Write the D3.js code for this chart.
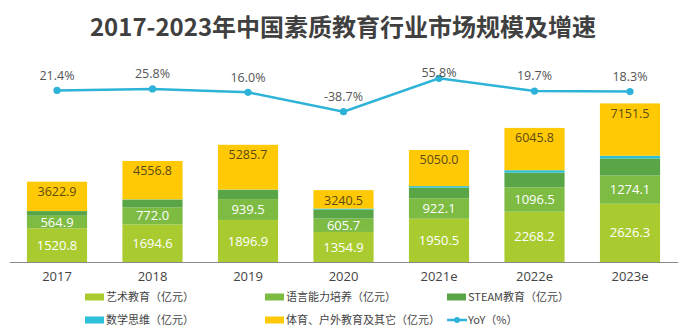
<!DOCTYPE html>
<html><head><meta charset="utf-8">
<script src="https://cdn.jsdelivr.net/npm/d3@7"></script>
<style>
html,body{margin:0;padding:0;background:#fff;}
svg{display:block;}
text{font-family:"Open Sans","Noto Sans CJK SC",sans-serif;}
</style></head>
<body><svg id="c" width="684" height="329"></svg>
<script>
const years = ["2017","2018","2019","2020","2021e","2022e","2023e"];
const art = [1520.8,1694.6,1896.9,1354.9,1950.5,2268.2,2626.3];
const language = [564.9,772.0,939.5,605.7,922.1,1096.5,1274.1];
const steam = [210,350,420,410,485,665,770];
const mathThink = [5,8,12,40,65,110,120];
const sports = [1322,1732,2017,830,1627,1906,2361];
const totals = [3622.9,4556.8,5285.7,3240.5,5050.0,6045.8,7151.5];
const yoy = [21.4,25.8,16.0,-38.7,55.8,19.7,18.3];

const seriesKeys = ["art","language","steam","math","sports"];
const seriesNames = ["艺术教育（亿元）","语言能力培养（亿元）","STEAM教育（亿元）","数学思维（亿元）","体育、户外教育及其它（亿元）"];
const colors = {art:"#a9cb2f",language:"#7dbb43",steam:"#5aa646",math:"#2cc0d9",sports:"#ffc905"};
const lineColor = "#2eb3d8";

const rows = years.map((y,i)=>({year:y,art:art[i],language:language[i],steam:steam[i],math:mathThink[i],sports:sports[i],total:totals[i],yoy:yoy[i]}));

const svg = d3.select("#c");
const x = d3.scaleBand().domain(years).range([9.25,677.75]).paddingInner(0.37).paddingOuter(0.185);
const y = d3.scaleLinear().domain([0,8000]).range([262,84.6]);
const yl = d3.scaleLinear().domain([-100,100]).range([133.3,62.7]);

// title
svg.append("text").attr("x",343).attr("y",36).attr("text-anchor","middle")
  .style("font-family","'Noto Sans CJK SC',sans-serif").style("font-weight","bold")
  .style("font-size","24px").attr("fill","#404040")
  .text("2017-2023年中国素质教育行业市场规模及增速");

const stack = d3.stack().keys(seriesKeys)(rows);
const g = svg.append("g");
stack.forEach(layer=>{
  g.selectAll(null).data(layer).enter().append("rect")
    .attr("x",d=>x(d.data.year)).attr("width",x.bandwidth())
    .attr("y",d=>y(d[1])).attr("height",d=>Math.max(0,y(d[0])-y(d[1])))
    .attr("fill",colors[layer.key]);
});

// axis
const xAxis = d3.axisBottom(x).tickSize(0).tickPadding(10);
const ax = svg.append("g").attr("transform","translate(0,262)").call(xAxis);
ax.select(".domain").attr("stroke","#8a8a8a").attr("stroke-width",1.2);
ax.selectAll("text").style("font-size","13px").attr("fill","#444");

// bar labels
const artLayer = stack[0], langLayer = stack[1];
svg.selectAll(null).data(artLayer).enter().append("text")
  .attr("x",d=>x(d.data.year)+x.bandwidth()/2).attr("y",d=>(y(d[0])+y(d[1]))/2)
  .attr("dy","0.35em").attr("text-anchor","middle").attr("fill","#fff")
  .style("font-size","13px").text(d=>d.data.art.toFixed(1));
svg.selectAll(null).data(langLayer).enter().append("text")
  .attr("x",d=>x(d.data.year)+x.bandwidth()/2).attr("y",d=>(y(d[0])+y(d[1]))/2)
  .attr("dy","0.35em").attr("text-anchor","middle").attr("fill","#fff")
  .style("font-size","13px").text(d=>d.data.language.toFixed(1));
svg.selectAll(null).data(rows).enter().append("text")
  .attr("x",d=>x(d.year)+x.bandwidth()/2).attr("y",d=>y(d.total)+10)
  .attr("dy","0.35em").attr("text-anchor","middle").attr("fill","#5b4a14")
  .style("font-size","12.5px").text(d=>d.total.toFixed(1));

// line
const cx = d=>x(d.year)+x.bandwidth()/2;
svg.append("path").datum(rows)
  .attr("d",d3.line().x(cx).y(d=>yl(d.yoy)))
  .attr("fill","none").attr("stroke",lineColor).attr("stroke-width",2.5);
svg.selectAll(null).data(rows).enter().append("circle")
  .attr("cx",cx).attr("cy",d=>yl(d.yoy)).attr("r",3.6).attr("fill",lineColor);
svg.selectAll(null).data(rows).enter().append("text")
  .attr("x",cx).attr("y",d=>Math.max(yl(d.yoy)-15,73))
  .attr("dy","0.35em").attr("text-anchor","middle").attr("fill","#555")
  .style("font-size","12.5px").text(d=>d.yoy.toFixed(1)+"%");

// legend
const legendItems = [
  {name:seriesNames[0],color:colors.art,col:0,row:0},
  {name:seriesNames[1],color:colors.language,col:1,row:0},
  {name:seriesNames[2],color:colors.steam,col:2,row:0},
  {name:seriesNames[3],color:colors.math,col:0,row:1},
  {name:seriesNames[4],color:colors.sports,col:1,row:1},
  {name:"YoY（%）",color:lineColor,col:2,row:1,line:true}
];
const colX = [85,265,447], rowY = [297,320];
const lg = svg.append("g");
legendItems.forEach(it=>{
  const lx = colX[it.col], ly = rowY[it.row];
  if(it.line){
    lg.append("line").attr("x1",lx).attr("x2",lx+20).attr("y1",ly).attr("y2",ly).attr("stroke",it.color).attr("stroke-width",2.5);
    lg.append("circle").attr("cx",lx+10).attr("cy",ly).attr("r",3).attr("fill",it.color);
  } else {
    lg.append("rect").attr("x",lx).attr("y",ly-3.5).attr("width",19).attr("height",7).attr("fill",it.color);
  }
  lg.append("text").attr("x",lx+21).attr("y",ly).attr("dy","0.35em")
    .style("font-family","'Noto Sans CJK SC',sans-serif").style("font-size","11px").attr("fill","#444").text(it.name);
});
</script></body></html>
